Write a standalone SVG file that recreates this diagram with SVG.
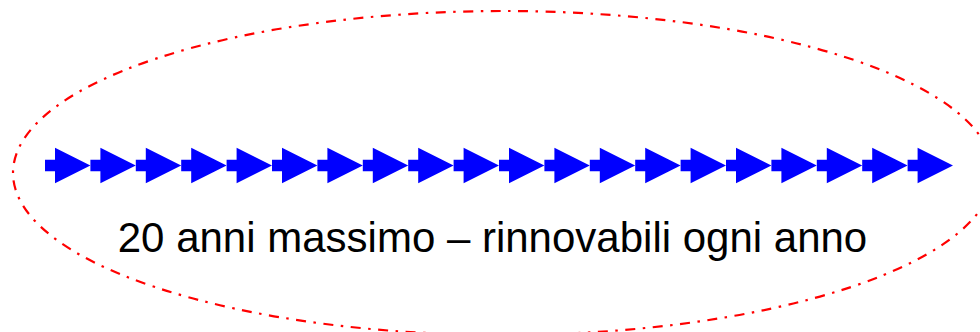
<svg xmlns="http://www.w3.org/2000/svg" xmlns:xlink="http://www.w3.org/1999/xlink" width="980" height="332" viewBox="0 0 980 332">
<style>
.ring{fill:none;stroke:#ff0000;stroke-width:2.2;stroke-dasharray:10 7.5 2.5 7.5}
.arr{fill:#0000ff}
.lbl{font-family:"Liberation Sans",Arial,sans-serif;font-size:42px;fill:#000}
</style>
<defs>
<path id="a" class="arr" d="M0,-5.7 H10 V-17.7 L45.4,0 L10,17.7 V5.7 H0 Z"/>
</defs>
<rect width="980" height="332" fill="#fff"/>
<g id="ellipse">
<ellipse class="ring" cx="503" cy="173" rx="490" ry="162"/>
</g>
<g id="arrows">
<use xlink:href="#a" x="45" y="165.5"/>
<use xlink:href="#a" x="90.4" y="165.5"/>
<use xlink:href="#a" x="135.8" y="165.5"/>
<use xlink:href="#a" x="181.2" y="165.5"/>
<use xlink:href="#a" x="226.6" y="165.5"/>
<use xlink:href="#a" x="272" y="165.5"/>
<use xlink:href="#a" x="317.4" y="165.5"/>
<use xlink:href="#a" x="362.8" y="165.5"/>
<use xlink:href="#a" x="408.2" y="165.5"/>
<use xlink:href="#a" x="453.6" y="165.5"/>
<use xlink:href="#a" x="499" y="165.5"/>
<use xlink:href="#a" x="544.4" y="165.5"/>
<use xlink:href="#a" x="589.8" y="165.5"/>
<use xlink:href="#a" x="635.2" y="165.5"/>
<use xlink:href="#a" x="680.6" y="165.5"/>
<use xlink:href="#a" x="726" y="165.5"/>
<use xlink:href="#a" x="771.4" y="165.5"/>
<use xlink:href="#a" x="816.8" y="165.5"/>
<use xlink:href="#a" x="862.2" y="165.5"/>
<use xlink:href="#a" x="907.6" y="165.5"/>
</g>
<g id="label">
<text class="lbl" x="492.5" y="252" text-anchor="middle">20 anni massimo – rinnovabili ogni anno</text>
</g>
</svg>
